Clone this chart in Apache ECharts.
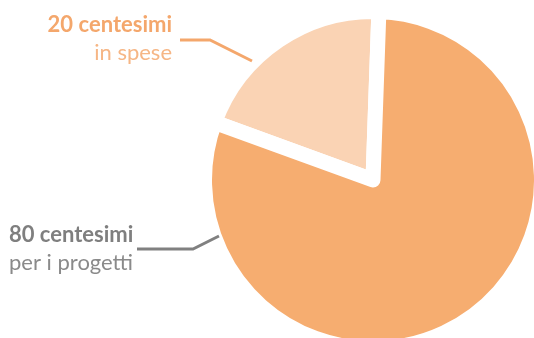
<!DOCTYPE html>
<html>
<head>
<meta charset="utf-8">
<script src="https://cdn.jsdelivr.net/npm/echarts@6/dist/echarts.min.js"></script>
<style>
html,body{margin:0;padding:0;background:#fff;}
#chart{width:534px;height:338px;}
</style>
</head>
<body>
<div id="chart"></div>
<script>
// Data
const categories = ['in spese', 'per i progetti'];
const values = [20, 80];
const unitLabel = 'centesimi';

// Styles
const sliceColors = ['#FAD3B4', '#F6AD70'];
const boldColors = ['#F4A76C', '#7F7F7F'];
const lightColors = ['#F6B685', '#8A8A8A'];
const lineColors = ['#F4A76C', '#808080'];

const FONT = 'Lato, "Open Sans", sans-serif';

const labelPlacements = [
  { x: 172, y: 11, align: 'right', line: [[252, 61], [210, 40], [180, 40]] },
  { x: 9, y: 221, align: 'left', line: [[219, 236], [193, 249], [137, 249]] }
];

const seriesData = categories.map((name, i) => ({
  name: name,
  value: values[i],
  itemStyle: { color: sliceColors[i] },
  label: {
    rich: {
      a: { fontFamily: FONT, fontWeight: 'bold', fontSize: 22, lineHeight: 28, color: boldColors[i] },
      b: { fontFamily: FONT, fontWeight: 'normal', fontSize: 22, lineHeight: 28, color: lightColors[i] }
    }
  }
}));

const chart = echarts.init(document.getElementById('chart'), null, { renderer: 'canvas' });
chart.setOption({
  animation: false,
  backgroundColor: '#ffffff',
  graphic: labelPlacements.map((p, i) => ({
    type: 'polyline',
    z: 100,
    silent: true,
    shape: { points: p.line },
    style: { stroke: lineColors[i], lineWidth: 3, fill: null, lineJoin: 'miter' }
  })),
  series: [{
    type: 'pie',
    center: [373, 180],
    radius: 168.5,
    startAngle: 88,
    clockwise: false,
    avoidLabelOverlap: false,
    silent: true,
    itemStyle: { borderColor: '#ffffff', borderWidth: 15, borderJoin: 'round' },
    label: {
      show: true,
      position: 'outside',
      formatter: '{a|{c} ' + unitLabel + '}\n{b|{b}}'
    },
    labelLine: { show: false },
    labelLayout: function (params) {
      const p = labelPlacements[params.dataIndex];
      return {
        x: p.x,
        y: p.y,
        align: p.align,
        verticalAlign: 'top'
      };
    },
    data: seriesData
  }]
});
</script>
</body>
</html>
